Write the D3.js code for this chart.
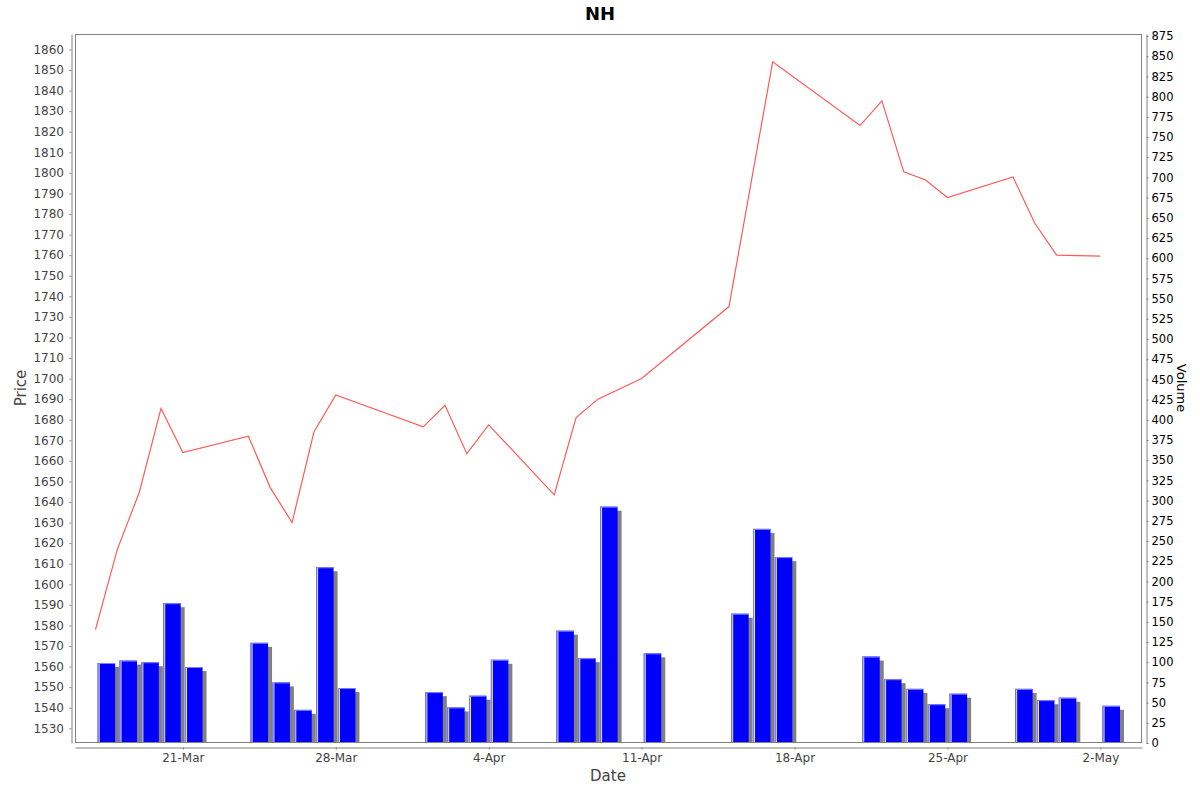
<!DOCTYPE html>
<html>
<head>
<meta charset="utf-8">
<script src="https://cdn.jsdelivr.net/npm/d3@7"></script>
<style>
  body { margin: 0; background: #fff; }
  text { font-family: "DejaVu Sans", sans-serif; }
</style>
</head>
<body>
<div id="chart"></div>
<script>
// NH - precio (linea) y volumen (barras)

const priceDates = ["2014-03-17","2014-03-18","2014-03-19","2014-03-20","2014-03-21",
  "2014-03-24","2014-03-25","2014-03-26","2014-03-27","2014-03-28",
  "2014-04-01","2014-04-02","2014-04-03","2014-04-04",
  "2014-04-07","2014-04-08","2014-04-09","2014-04-11",
  "2014-04-15","2014-04-17",
  "2014-04-21","2014-04-22","2014-04-23","2014-04-24","2014-04-25",
  "2014-04-28","2014-04-29","2014-04-30","2014-05-02"]
const prices = [1578, 1617, 1644.5, 1685.5, 1664,
  1672, 1647, 1630, 1674, 1692,
  1676.5, 1687, 1663.5, 1677.5,
  1643.5, 1681, 1690, 1700,
  1735, 1854,
  1823, 1835, 1800.5, 1796.5, 1788,
  1798, 1775.5, 1760, 1759.5]

const volDates = ["2014-03-17","2014-03-18","2014-03-19","2014-03-20","2014-03-21",
  "2014-03-24","2014-03-25","2014-03-26","2014-03-27","2014-03-28",
  "2014-04-01","2014-04-02","2014-04-03","2014-04-04",
  "2014-04-07","2014-04-08","2014-04-09","2014-04-11",
  "2014-04-15","2014-04-16","2014-04-17",
  "2014-04-21","2014-04-22","2014-04-23","2014-04-24","2014-04-25",
  "2014-04-28","2014-04-29","2014-04-30","2014-05-02"]
const volumes = [99, 102, 100, 173, 94,
  124, 75, 41, 217.5, 68,
  63, 44, 58.5, 103,
  139, 105, 292.5, 111,
  160, 265, 230,
  107, 79, 67, 48, 61,
  67, 53, 56, 46]

const dateTicks = ["2014-03-21","2014-03-28","2014-04-04","2014-04-11","2014-04-18","2014-04-25","2014-05-02"]
const priceTicks = d3.range(1530, 1861, 10)
const volumeTicks = d3.range(0, 876, 25)

// dimensiones
const anchoTotal = 1200
const altoTotal = 792
const plot = { left: 75, top: 34, right: 1142, bottom: 743 }
const DAY = 24 * 3600 * 1000

const parse = d3.utcParse("%Y-%m-%d")
const fmt = d3.utcFormat("%-d-%b")

const svg = d3.select("#chart")
  .append("svg")
    .attr("width", anchoTotal)
    .attr("height", altoTotal)

const start = +parse("2014-03-16") + 1.5 * 3600 * 1000
const x = d3.scaleUtc()
  .domain([new Date(start), new Date(start + 48.844 * DAY)])
  .range([plot.left, plot.right])
const dayW = x(new Date(start + DAY)) - x(new Date(start))

const yP = d3.scaleLinear().domain([1522.85, 1867.5]).range([plot.bottom, plot.top])
const yV = d3.scaleLinear().domain([0, 877.5]).range([plot.bottom, plot.top])

svg.append("defs").append("clipPath").attr("id", "clip")
  .append("rect")
    .attr("x", plot.left).attr("y", plot.top)
    .attr("width", plot.right - plot.left).attr("height", plot.bottom - plot.top)

// titulo
svg.append("text")
  .attr("x", 600).attr("y", 20)
  .attr("text-anchor", "middle")
  .attr("font-size", "18px").attr("font-weight", "bold")
  .text("NH")

const g = svg.append("g").attr("clip-path", "url(#clip)")

const bars = volDates.map((d, i) => ({ date: parse(d), v: volumes[i] }))

// sombras
g.selectAll(".shadow").data(bars).enter().append("rect")
  .attr("x", d => x(d.date) + 0.1 * dayW + 4)
  .attr("y", d => yV(d.v) + 4)
  .attr("width", 0.8 * dayW)
  .attr("height", d => yV(0) - yV(d.v))
  .attr("fill", "#808080")

// barras
g.selectAll(".bar").data(bars).enter().append("rect")
  .attr("x", d => x(d.date) + 0.1 * dayW)
  .attr("y", d => yV(d.v))
  .attr("width", 0.8 * dayW)
  .attr("height", d => yV(0) - yV(d.v))
  .attr("fill", "#0000ff")

// brillo del borde
g.selectAll(".hl1").data(bars).enter().append("rect")
  .attr("x", d => x(d.date) + 0.1 * dayW)
  .attr("y", d => yV(d.v))
  .attr("width", 1)
  .attr("height", d => yV(0) - yV(d.v))
  .attr("fill", "#7f7fff")
g.selectAll(".hl2").data(bars).enter().append("rect")
  .attr("x", d => x(d.date) + 0.1 * dayW + 1)
  .attr("y", d => yV(d.v))
  .attr("width", 1)
  .attr("height", d => yV(0) - yV(d.v))
  .attr("fill", "#e6e6ff")
g.selectAll(".hl3").data(bars).enter().append("rect")
  .attr("x", d => x(d.date) + 0.1 * dayW)
  .attr("y", d => yV(d.v))
  .attr("width", 0.8 * dayW)
  .attr("height", 1)
  .attr("fill", "#8080ff")

// linea de precio
const line = priceDates.map((d, i) => ({ date: parse(d), p: prices[i] }))
g.append("path")
  .datum(line)
  .attr("d", d3.line().x(d => x(d.date)).y(d => yP(d.p)))
  .attr("fill", "none")
  .attr("stroke", "#ff5a5a")
  .attr("stroke-width", 1.2)

// borde del grafico
svg.append("rect")
  .attr("x", plot.left + 0.5).attr("y", plot.top + 0.5)
  .attr("width", plot.right - plot.left - 1).attr("height", plot.bottom - plot.top - 1)
  .attr("fill", "none").attr("stroke", "#808080")

const styleAxis = (sel, color) => {
  sel.select(".domain").attr("stroke", "#808080")
  sel.selectAll(".tick line").attr("stroke", "#808080")
  sel.selectAll(".tick text").attr("fill", color).attr("font-family", "DejaVu Sans")
}

// eje izquierdo
svg.append("g")
  .attr("transform", `translate(71.5,0)`)
  .call(d3.axisLeft(yP).tickValues(priceTicks).tickSize(2).tickSizeOuter(0).tickPadding(5.5).tickFormat(d3.format("d")))
  .attr("font-size", 12)
  .call(s => styleAxis(s, "#444"))

// eje derecho
svg.append("g")
  .attr("transform", `translate(1146.5,0)`)
  .call(d3.axisRight(yV).tickValues(volumeTicks).tickSize(2).tickSizeOuter(0).tickPadding(3))
  .attr("font-size", 11.5)
  .call(s => styleAxis(s, "#000"))

// eje inferior
svg.append("g")
  .attr("transform", `translate(0,747.5)`)
  .call(d3.axisBottom(x).tickValues(dateTicks.map(parse)).tickSize(2).tickSizeOuter(0).tickPadding(4).tickFormat(fmt))
  .attr("font-size", 12)
  .call(s => styleAxis(s, "#444"))

// etiquetas
svg.append("text")
  .attr("transform", "translate(26,388) rotate(-90)")
  .attr("text-anchor", "middle")
  .attr("font-size", "15px").attr("fill", "#444")
  .text("Price")

svg.append("text")
  .attr("x", 608).attr("y", 781)
  .attr("text-anchor", "middle")
  .attr("font-size", "15px").attr("fill", "#444")
  .text("Date")

svg.append("text")
  .attr("transform", "translate(1177,388) rotate(90)")
  .attr("text-anchor", "middle")
  .attr("font-size", "13px").attr("fill", "#000")
  .text("Volume")
</script>
</body>
</html>
